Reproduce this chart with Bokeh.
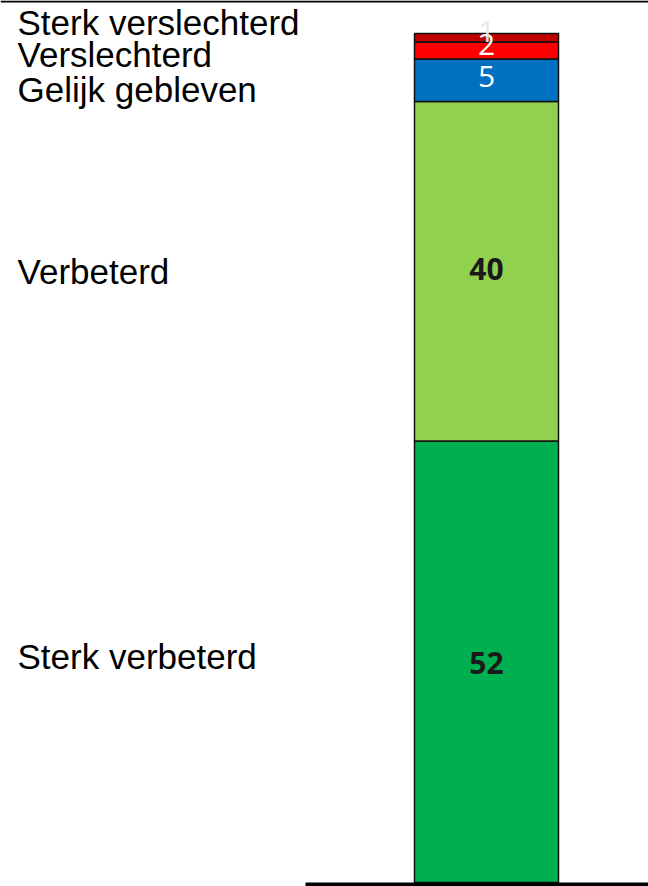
from bokeh.plotting import figure
from bokeh.models import Range1d, ColumnDataSource
from bokeh.core.properties import value
from bokeh.embed import file_html
from bokeh.resources import INLINE

# Data (bottom to top)
categories = ["Sterk verbeterd", "Verbeterd", "Gelijk gebleven", "Verslechterd", "Sterk verslechterd"]
values = [52, 40, 5, 2, 1]
colors = ["#00b050", "#92d050", "#0070c0", "#ff0000", "#c00000"]
number_colors = ["#1a1a1a", "#1a1a1a", "#ffffff", "#ffffff", "#e8e8e8"]

bottoms = []
tops = []
acc = 0
for v in values:
    bottoms.append(acc)
    acc += v
    tops.append(acc)
mids = [(b + t) / 2 for b, t in zip(bottoms, tops)]

# left-hand label baseline offsets (px; top three stacked apart for readability)
label_offsets_px = [-5, 0, 9, 4, -15]
number_offsets_px = [1, -2, -4, -6, -6]

W, H = 648, 886
p = figure(width=W, height=H, output_backend="svg", toolbar_location=None,
           x_range=Range1d(0, W), y_range=Range1d(-0.471, 103.887),
           min_border=0, min_border_left=0, min_border_right=0,
           min_border_top=0, min_border_bottom=0)
p.axis.visible = False
p.grid.visible = False
p.outline_line_color = None
p.background_fill_color = "white"

bar_x = 486
bar_w = 144
src = ColumnDataSource(dict(cat=categories, bottom=bottoms, top=tops, color=colors,
                            mid=mids, num=[str(v) for v in values],
                            ncol=number_colors, lyo=label_offsets_px,
                            nyo=number_offsets_px))
p.vbar(x=bar_x, width=bar_w, bottom="bottom", top="top", fill_color="color",
       line_color="#111111", line_width=1.5, source=src)

# numbers inside bar
big = ColumnDataSource(dict(y=mids[:2], t=[str(v) for v in values[:2]], o=number_offsets_px[:2]))
p.text(x=bar_x, y="y", text="t", source=big, y_offset="o", text_align="center",
       text_baseline="middle", text_font=value("Open Sans"), text_font_style="bold",
       text_font_size="30px", text_color="#1a1a1a")
small = ColumnDataSource(dict(y=mids[2:], t=[str(v) for v in values[2:]], c=number_colors[2:],
                              o=number_offsets_px[2:]))
p.text(x=bar_x, y="y", text="t", source=small, y_offset="o", text_align="center",
       text_baseline="middle", text_font=value("Open Sans"), text_font_size="30px",
       text_color="c")

# category labels on the left
p.text(x=17, y="mid", text="cat", source=src, y_offset="lyo", text_align="left",
       text_baseline="alphabetic", text_font=value("Liberation Sans"),
       text_font_size="35px", text_color="#000000")

# baseline and top rule
p.segment(x0=305, y0=-0.236, x1=W, y1=-0.236, line_color="black", line_width=4)
p.segment(x0=0, y0=103.77, x1=W, y1=103.77, line_color="black", line_width=2)

open("out.html", "w").write(file_html(p, INLINE))
